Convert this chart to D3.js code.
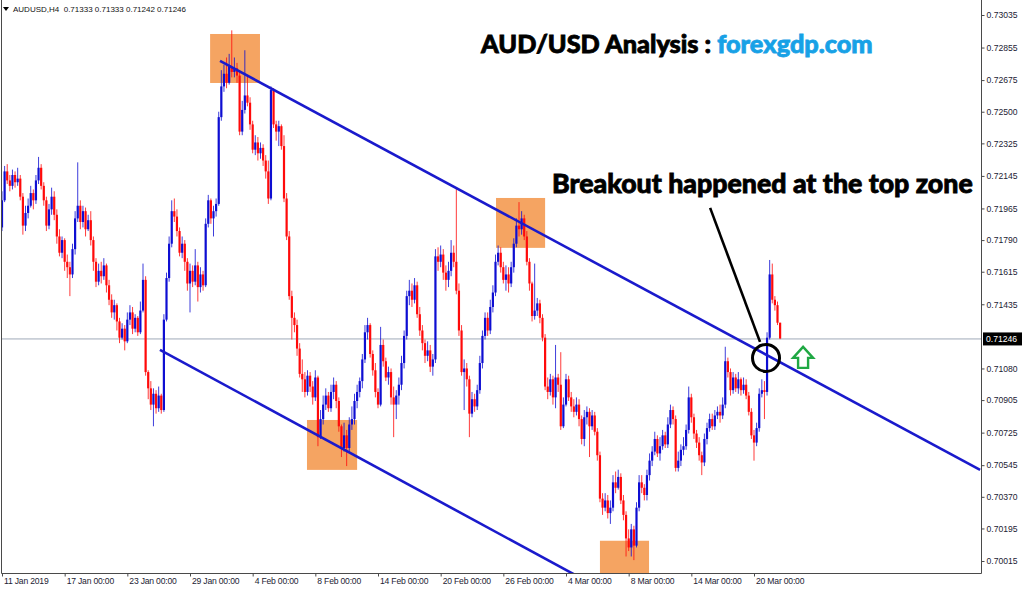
<!DOCTYPE html>
<html><head><meta charset="utf-8">
<script src="https://cdn.jsdelivr.net/npm/d3@7"></script>
<style>body{margin:0;background:#fff}svg{display:block}</style>
</head><body>
<svg id="c" width="1024" height="589"></svg>
<script>
const symbolLabel = "AUDUSD,H4";
const firstOpen = 0.7186;
const closes = [0.7201,0.7217,0.7212,0.7209,0.7215,0.7211,0.7213,0.7203,0.7187,0.7194,
0.7198,0.7205,0.7201,0.7212,0.7219,0.7209,0.7201,0.7187,0.7196,0.7203,
0.7193,0.7181,0.7172,0.7179,0.7167,0.7164,0.7160,0.7174,0.7191,0.7198,
0.7189,0.7195,0.7185,0.7190,0.7179,0.7167,0.7156,0.7162,0.7159,0.7165,
0.7154,0.7146,0.7139,0.7143,0.7134,0.7125,0.7130,0.7123,0.7135,0.7139,
0.7130,0.7136,0.7128,0.7140,0.7157,0.7106,0.7097,0.7088,0.7094,0.7086,
0.7093,0.7085,0.7135,0.7158,0.7177,0.7195,0.7192,0.7184,0.7172,0.7177,
0.7167,0.7155,0.7162,0.7156,0.7165,0.7153,0.7160,0.7154,0.7188,0.7201,
0.7191,0.7195,0.7199,0.7247,0.7264,0.7271,0.7266,0.7275,0.7272,0.7274,
0.7270,0.7239,0.7251,0.7259,0.7255,0.7243,0.7229,0.7233,0.7227,0.7230,
0.7223,0.7217,0.7202,0.7262,0.7243,0.7239,0.7242,0.7231,0.7202,0.7181,
0.7148,0.7136,0.7132,0.7119,0.7105,0.7102,0.7095,0.7104,0.7098,0.7092,
0.7103,0.7070,0.7080,0.7088,0.7093,0.7086,0.7095,0.7099,0.7090,0.7076,
0.7064,0.7071,0.7064,0.7077,0.7080,0.7090,0.7095,0.7101,0.7113,0.7128,
0.7132,0.7116,0.7107,0.7095,0.7088,0.7121,0.7112,0.7103,0.7106,0.7092,
0.7088,0.7093,0.7099,0.7111,0.7126,0.7148,0.7151,0.7146,0.7154,0.7138,
0.7129,0.7122,0.7115,0.7118,0.7109,0.7113,0.7170,0.7167,0.7171,0.7161,
0.7157,0.7162,0.7172,0.7167,0.7151,0.7129,0.7106,0.7108,0.7102,0.7083,
0.7091,0.7087,0.7096,0.7111,0.7126,0.7136,0.7129,0.7142,0.7150,0.7167,
0.7172,0.7164,0.7157,0.7160,0.7155,0.7164,0.7177,0.7187,0.7185,0.7191,
0.7181,0.7167,0.7155,0.7137,0.7140,0.7144,0.7136,0.7125,0.7098,0.7095,
0.7102,0.7092,0.7103,0.7099,0.7076,0.7088,0.7102,0.7092,0.7087,0.7084,
0.7088,0.7080,0.7069,0.7081,0.7084,0.7076,0.7082,0.7073,0.7060,0.7036,
0.7031,0.7035,0.7028,0.7031,0.7045,0.7042,0.7048,0.7035,0.7027,0.7014,
0.7009,0.7019,0.7010,0.7031,0.7045,0.7042,0.7038,0.7049,0.7057,0.7062,
0.7069,0.7061,0.7065,0.7071,0.7066,0.7077,0.7085,0.7080,0.7053,0.7057,
0.7063,0.7065,0.7074,0.7092,0.7081,0.7072,0.7067,0.7060,0.7056,0.7069,
0.7075,0.7080,0.7076,0.7082,0.7084,0.7082,0.7088,0.7112,0.7106,0.7096,
0.7103,0.7097,0.7102,0.7096,0.7099,0.7093,0.7084,0.7071,0.7067,0.7075,
0.7094,0.7096,0.7095,0.7125,0.7160,0.7146,0.7143,0.71333,0.71246];
const highs = [0.7206,0.7220,0.7221,0.7215,0.7218,0.7217,0.7219,0.7215,0.7205,0.7198,
0.7202,0.7209,0.7207,0.7215,0.7225,0.7221,0.7211,0.7203,0.7199,0.7208,
0.7206,0.7196,0.7185,0.7181,0.7180,0.7171,0.7167,0.7177,0.7195,0.7222,
0.7201,0.7198,0.7197,0.7193,0.7195,0.7181,0.7169,0.7166,0.7167,0.7169,
0.7166,0.7157,0.7149,0.7146,0.7144,0.7136,0.7133,0.7132,0.7139,0.7143,
0.7142,0.7138,0.7137,0.7145,0.7166,0.7159,0.7107,0.7101,0.7097,0.7096,
0.7098,0.7094,0.7138,0.7161,0.7181,0.7201,0.7202,0.7196,0.7186,0.7181,
0.7179,0.7169,0.7166,0.7165,0.7174,0.7167,0.7164,0.7162,0.7191,0.7204,
0.7202,0.7198,0.7202,0.7250,0.7273,0.7276,0.7280,0.7282,0.7295,0.7280,
0.7277,0.7272,0.7256,0.7284,0.7270,0.7258,0.7245,0.7237,0.7236,0.7233,
0.7232,0.7226,0.7223,0.7264,0.7263,0.7245,0.7245,0.7243,0.7237,0.7205,
0.7184,0.7151,0.7139,0.7135,0.7122,0.7113,0.7106,0.7107,0.7106,0.7101,
0.7107,0.7104,0.7085,0.7093,0.7097,0.7095,0.7099,0.7103,0.7101,0.7092,
0.7077,0.7078,0.7074,0.7081,0.7087,0.7094,0.7099,0.7103,0.7116,0.7132,
0.7136,0.7133,0.7118,0.7111,0.7097,0.7131,0.7124,0.7114,0.7109,0.7108,
0.7098,0.7096,0.7103,0.7115,0.7129,0.7151,0.7157,0.7155,0.7158,0.7156,
0.7142,0.7132,0.7124,0.7123,0.7121,0.7116,0.7174,0.7175,0.7176,0.7174,
0.7165,0.7167,0.7179,0.7176,0.7208,0.7155,0.7132,0.7113,0.7111,0.7104,
0.7095,0.7094,0.7099,0.7115,0.7129,0.7139,0.7139,0.7146,0.7154,0.7171,
0.7176,0.7175,0.7167,0.7165,0.7164,0.7167,0.7180,0.7191,0.7200,0.7195,
0.7193,0.7184,0.7169,0.7156,0.7166,0.7147,0.7146,0.7138,0.7127,0.7103,
0.7105,0.7104,0.7121,0.7105,0.7117,0.7092,0.7105,0.7104,0.7095,0.7091,
0.7092,0.7091,0.7082,0.7085,0.7087,0.7086,0.7085,0.7084,0.7075,0.7062,
0.7039,0.7039,0.7038,0.7035,0.7049,0.7051,0.7052,0.7050,0.7038,0.7029,
0.7019,0.7022,0.7021,0.7034,0.7049,0.7049,0.7044,0.7052,0.7061,0.7065,
0.7073,0.7071,0.7070,0.7074,0.7073,0.7081,0.7088,0.7087,0.7082,0.7062,
0.7066,0.7070,0.7077,0.7098,0.7094,0.7083,0.7074,0.7070,0.7062,0.7072,
0.7078,0.7083,0.7083,0.7085,0.7087,0.7088,0.7092,0.7120,0.7114,0.7108,
0.7106,0.7105,0.7106,0.7103,0.7103,0.7102,0.7095,0.7086,0.7074,0.7078,
0.7097,0.7102,0.7101,0.7128,0.7168,0.7166,0.7148,0.7145,0.71333];
const lows = [0.7184,0.7200,0.7210,0.7206,0.7207,0.7208,0.7209,0.7201,0.7182,0.7184,
0.7191,0.7197,0.7196,0.7199,0.7210,0.7207,0.7198,0.7184,0.7185,0.7193,
0.7190,0.7177,0.7170,0.7169,0.7162,0.7158,0.7148,0.7158,0.7171,0.7189,
0.7185,0.7186,0.7181,0.7184,0.7176,0.7162,0.7153,0.7154,0.7155,0.7157,
0.7150,0.7143,0.7136,0.7135,0.7129,0.7122,0.7124,0.7118,0.7122,0.7132,
0.7127,0.7128,0.7126,0.7127,0.7139,0.7104,0.7091,0.7085,0.7076,0.7083,
0.7084,0.7083,0.7084,0.7134,0.7156,0.7175,0.7189,0.7181,0.7170,0.7169,
0.7162,0.7151,0.7139,0.7153,0.7154,0.7145,0.7150,0.7151,0.7153,0.7186,
0.7188,0.7181,0.7192,0.7198,0.7245,0.7261,0.7263,0.7265,0.7269,0.7269,
0.7266,0.7237,0.7237,0.7249,0.7253,0.7240,0.7227,0.7226,0.7223,0.7224,
0.7220,0.7213,0.7199,0.7201,0.7241,0.7234,0.7231,0.7229,0.7200,0.7179,
0.7146,0.7124,0.7128,0.7115,0.7103,0.7095,0.7092,0.7093,0.7095,0.7088,
0.7090,0.7065,0.7069,0.7077,0.7085,0.7084,0.7084,0.7091,0.7086,0.7073,
0.7059,0.7062,0.7054,0.7062,0.7074,0.7077,0.7086,0.7092,0.7097,0.7111,
0.7124,0.7114,0.7104,0.7092,0.7086,0.7087,0.7109,0.7101,0.7099,0.7088,
0.7070,0.7080,0.7088,0.7096,0.7108,0.7124,0.7143,0.7142,0.7144,0.7136,
0.7126,0.7118,0.7111,0.7112,0.7106,0.7104,0.7111,0.7162,0.7164,0.7157,
0.7151,0.7153,0.7159,0.7164,0.7149,0.7126,0.7104,0.7085,0.7098,0.7070,
0.7081,0.7084,0.7085,0.7094,0.7108,0.7124,0.7126,0.7127,0.7139,0.7148,
0.7165,0.7161,0.7155,0.7151,0.7150,0.7153,0.7161,0.7175,0.7181,0.7182,
0.7179,0.7165,0.7151,0.7134,0.7135,0.7137,0.7133,0.7123,0.7096,0.7091,
0.7093,0.7088,0.7086,0.7095,0.7074,0.7075,0.7087,0.7090,0.7084,0.7081,
0.7082,0.7076,0.7066,0.7065,0.7077,0.7059,0.7074,0.7071,0.7057,0.7034,
0.7027,0.7029,0.7025,0.7022,0.7029,0.7039,0.7041,0.7033,0.7024,0.7004,
0.7007,0.7004,0.7002,0.7009,0.7029,0.7039,0.7035,0.7035,0.7046,0.7054,
0.7060,0.7059,0.7057,0.7063,0.7064,0.7064,0.7075,0.7077,0.7051,0.7051,
0.7054,0.7060,0.7063,0.7072,0.7078,0.7069,0.7064,0.7057,0.7049,0.7054,
0.7066,0.7073,0.7074,0.7074,0.7080,0.7078,0.7080,0.7086,0.7103,0.7093,
0.7094,0.7095,0.7094,0.7093,0.7094,0.7091,0.7082,0.7069,0.7057,0.7065,
0.7073,0.7092,0.7080,0.7093,0.7124,0.7144,0.7140,0.7132,0.71242];

const dateLabels = ["11 Jan 2019","17 Jan 00:00","23 Jan 00:00","29 Jan 00:00","4 Feb 00:00","8 Feb 00:00","14 Feb 00:00","20 Feb 00:00","26 Feb 00:00","4 Mar 00:00","8 Mar 00:00","14 Mar 00:00","20 Mar 00:00"];
const dateLabelBars = [0,24,48,72,96,120,144,168,192,216,240,264,288];
const priceTicks = [0.73035,0.72855,0.72675,0.72500,0.72325,0.72145,0.71965,0.71790,0.71615,0.71435,0.71080,0.70905,0.70725,0.70545,0.70370,0.70195,0.70015];
const lastPrice = 0.71246;
const lastBar = {open:0.71333, high:0.71333, low:0.71242, close:0.71246};

// annotation zones in (bar index, price)
const zoneBar0 = [79.7, 116.8, 189.2, 229.0];
const zoneBar1 = [98.8, 136.0, 208.0, 247.8];
const zoneTop = [0.72930, 0.70795, 0.72023, 0.70127];
const zoneBottom = [0.72659, 0.70519, 0.71747, 0.69900];
const upperTrendBars = [83.5, 374.6], upperTrendPrices = [0.72781, 0.70519];
const lowerTrendBars = [60.5, 219.5], lowerTrendPrices = [0.71183, 0.69938];
const pointerBars = [271.2, 290.3], pointerPrices = [0.71968, 0.71227];
const breakoutBar = 292.6, breakoutPrice = 0.71138;
const arrowBar = 306.8, arrowPrice = 0.71144;

const titleMain = "AUD/USD Analysis : ";
const titleSite = "forexgdp.com";
const noteText = "Breakout happened at the top zone";

const W = 1024, H = 589;
const bull = "#0e0ed2", bear = "#ff0a0a";
const svg = d3.select("#c");
svg.append("rect").attr("width", W).attr("height", H).attr("fill", "#fff");

const x = d3.scaleLinear().domain([0, 288]).range([2, 754]);
const y = d3.scaleLinear().domain([0.70015, 0.73035]).range([561, 15]);

const bars = closes.map((c, i) => ({i, o: i ? closes[i-1] : firstOpen, h: highs[i], l: lows[i], c}));

svg.append("defs").append("clipPath").attr("id", "clip")
  .append("rect").attr("x", 2).attr("y", 0).attr("width", 979).attr("height", 573);
const g = svg.append("g").attr("clip-path", "url(#clip)");

// zones
g.selectAll("rect.zone").data(zoneBar0).join("rect").attr("class", "zone")
  .attr("x", (d, k) => x(d)).attr("width", (d, k) => x(zoneBar1[k]) - x(d))
  .attr("y", (d, k) => y(zoneTop[k])).attr("height", (d, k) => y(zoneBottom[k]) - y(zoneTop[k]))
  .attr("fill", "#f5a462");

// bid line
g.append("line").attr("x1", 2).attr("x2", 981)
  .attr("y1", y(lastPrice) + 0.5).attr("y2", y(lastPrice) + 0.5)
  .attr("stroke", "#9fa9b8").attr("stroke-width", 1);

// candles
const isUp = d => d.c >= d.o;
g.selectAll("line.wick").data(bars).join("line").attr("class", "wick")
  .attr("x1", d => x(d.i)).attr("x2", d => x(d.i))
  .attr("y1", d => y(d.h)).attr("y2", d => y(d.l))
  .attr("stroke", d => isUp(d) ? bull : bear).attr("stroke-width", 1).attr("stroke-opacity", 0.8);
g.selectAll("rect.body").data(bars).join("rect").attr("class", "body")
  .attr("x", d => x(d.i) - 1.1).attr("width", 2.2)
  .attr("y", d => y(Math.max(d.o, d.c)))
  .attr("height", d => Math.max(1, Math.abs(y(d.o) - y(d.c))))
  .attr("fill", d => isUp(d) ? bull : bear);

// trend lines
const line = d3.line().x(d => x(d[0])).y(d => y(d[1]));
g.append("path").attr("d", line(upperTrendBars.map((b, k) => [b, upperTrendPrices[k]])))
  .attr("stroke", "#1a1acc").attr("stroke-width", 2.6).attr("fill", "none");
g.append("path").attr("d", line(lowerTrendBars.map((b, k) => [b, lowerTrendPrices[k]])))
  .attr("stroke", "#1a1acc").attr("stroke-width", 2.6).attr("fill", "none");

// pointer, circle, arrow
svg.append("path").attr("d", line(pointerBars.map((b, k) => [b, pointerPrices[k]])))
  .attr("stroke", "#000").attr("stroke-width", 2.6).attr("fill", "none");
svg.append("circle").attr("cx", x(breakoutBar)).attr("cy", y(breakoutPrice)).attr("r", 13.5)
  .attr("fill", "none").attr("stroke", "#000").attr("stroke-width", 3);
const ax = x(arrowBar), ay = y(arrowPrice);
svg.append("path")
  .attr("d", `M${ax},${ay-10} L${ax+10},${ay+1} L${ax+5},${ay+1} L${ax+5},${ay+11} L${ax-5},${ay+11} L${ax-5},${ay+1} L${ax-10},${ay+1} Z`)
  .attr("fill", "#fff").attr("stroke", "#1fa843").attr("stroke-width", 2.4).attr("stroke-linejoin", "miter");

// frame
const frame = svg.append("g").attr("stroke", "#4a4a4a").attr("stroke-width", 1);
frame.append("line").attr("x1", 1.5).attr("x2", 1.5).attr("y1", 0).attr("y2", 573.5);
frame.append("line").attr("x1", 1.5).attr("x2", 981.5).attr("y1", 573.5).attr("y2", 573.5);
frame.append("line").attr("x1", 981.5).attr("x2", 981.5).attr("y1", 0).attr("y2", 573.5);

const axisFont = "'Liberation Sans', Arial, sans-serif";
// y axis
const yAxis = d3.axisRight(y).tickValues(priceTicks).tickFormat(d3.format(".5f")).tickSize(3).tickPadding(2);
const yg = svg.append("g").attr("transform", "translate(981.5,0)").call(yAxis);
yg.select(".domain").remove();
yg.selectAll(".tick line").attr("stroke", "#4a4a4a");
yg.selectAll("text").attr("font-family", axisFont).attr("font-size", 8.6).attr("fill", "#222233");

// x axis
const xAxis = d3.axisBottom(x).tickValues(dateLabelBars).tickFormat((d, k) => dateLabels[k]).tickSize(3).tickPadding(1.5);
const xg = svg.append("g").attr("transform", "translate(0,573.5)").call(xAxis);
xg.select(".domain").remove();
xg.selectAll(".tick line").attr("stroke", "#4a4a4a");
xg.selectAll("text").attr("text-anchor", "start").attr("dx", 1.5)
  .attr("font-family", axisFont).attr("font-size", 8.6).attr("letter-spacing", -0.2).attr("fill", "#222233");

// last price label
svg.append("rect").attr("x", 983).attr("y", y(lastPrice) - 6).attr("width", 39).attr("height", 13).attr("fill", "#000");
svg.append("text").attr("x", 986).attr("y", y(lastPrice) + 3.5).text(d3.format(".5f")(lastPrice))
  .attr("font-family", axisFont).attr("font-size", 8.6).attr("fill", "#fff");

// header
svg.append("path").attr("d", "M3,7 L9,7 L6,11 Z").attr("fill", "#000");
svg.append("text").attr("x", 13).attr("y", 12)
  .text(`${symbolLabel}  ${d3.format(".5f")(lastBar.open)} ${d3.format(".5f")(lastBar.high)} ${d3.format(".5f")(lastBar.low)} ${d3.format(".5f")(lastBar.close)}`)
  .attr("font-family", axisFont).attr("font-size", 8).attr("fill", "#111").style("white-space", "pre");

// titles
function fit(sel, target) {
  const w = sel.node().getComputedTextLength();
  sel.attr("font-size", parseFloat(sel.attr("font-size")) * target / w);
}
const titleFont = "Lato, 'Open Sans', sans-serif";
const t1 = svg.append("text").attr("x", 481).attr("y", 53).attr("font-family", titleFont)
  .attr("font-weight", 900).attr("font-size", 24).style("white-space", "pre")
  .attr("stroke-width", 0.8).attr("paint-order", "stroke");
t1.append("tspan").attr("fill", "#000").attr("stroke", "#000").text(titleMain);
t1.append("tspan").attr("fill", "#17a1e6").attr("stroke", "#17a1e6").text(titleSite);
fit(t1, 392);
const t2 = svg.append("text").attr("x", 552).attr("y", 193).attr("font-family", titleFont)
  .attr("font-weight", 900).attr("font-size", 24).attr("fill", "#000")
  .attr("stroke", "#000").attr("stroke-width", 0.8).text(noteText);
fit(t2, 421);
</script>
</body></html>
